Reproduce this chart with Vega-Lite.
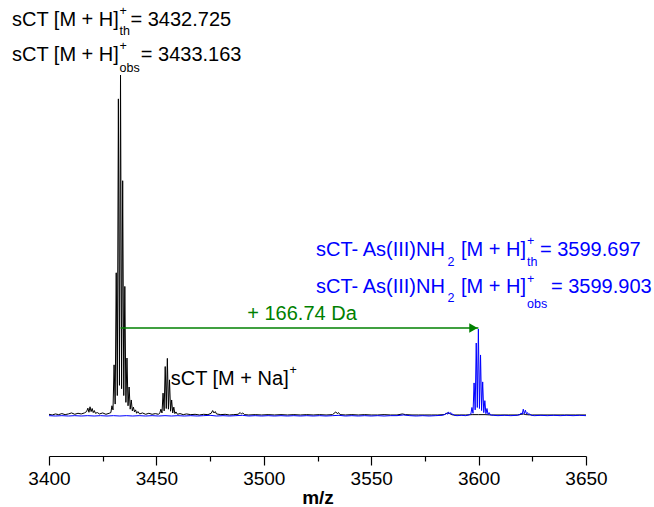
{
  "$schema": "https://vega.github.io/schema/vega-lite/v6.json",
  "autosize": "none",
  "width": 537,
  "height": 456,
  "padding": {"left": 49, "top": 0, "right": 68, "bottom": 51},
  "background": "#ffffff",
  "config": {"view": {"stroke": null}, "font": "Liberation Sans"},
  "datasets": {
    "black": [
      {"mz": 3400, "i": 0.5}, {"mz": 3401.5, "i": 0.3}, {"mz": 3403, "i": 0.6}, {"mz": 3404.5, "i": 0.4}, {"mz": 3406, "i": 0.7}, {"mz": 3407.5, "i": 0.4}, {"mz": 3409, "i": 0.6}, {"mz": 3410.5, "i": 0.9}, {"mz": 3412, "i": 0.5}, {"mz": 3413.5, "i": 0.8}, {"mz": 3415, "i": 0.6}, {"mz": 3416.5, "i": 0.9}, {"mz": 3417.5, "i": 1.3}, {"mz": 3418.1, "i": 2.3}, {"mz": 3418.6, "i": 1.1}, {"mz": 3419.1, "i": 2.7}, {"mz": 3419.6, "i": 1.3}, {"mz": 3420.1, "i": 2.2}, {"mz": 3420.6, "i": 1.0}, {"mz": 3421.1, "i": 1.6}, {"mz": 3421.6, "i": 0.8}, {"mz": 3422.5, "i": 1.0}, {"mz": 3423.5, "i": 0.6}, {"mz": 3425, "i": 0.9}, {"mz": 3426.5, "i": 0.5}, {"mz": 3428, "i": 0.8}, {"mz": 3428.8, "i": 1.0},
      {"mz": 3429.3, "i": 3.0}, {"mz": 3429.8, "i": 1.8}, {"mz": 3430.3, "i": 15}, {"mz": 3430.8, "i": 3.5}, {"mz": 3431.3, "i": 42}, {"mz": 3431.8, "i": 6}, {"mz": 3432.3, "i": 93}, {"mz": 3432.8, "i": 9}, {"mz": 3433.3, "i": 100}, {"mz": 3433.8, "i": 8}, {"mz": 3434.3, "i": 69}, {"mz": 3434.8, "i": 6}, {"mz": 3435.3, "i": 38}, {"mz": 3435.8, "i": 4}, {"mz": 3436.3, "i": 17}, {"mz": 3436.8, "i": 3}, {"mz": 3437.3, "i": 8.5}, {"mz": 3437.8, "i": 2}, {"mz": 3438.3, "i": 4.7}, {"mz": 3438.8, "i": 1.5}, {"mz": 3439.3, "i": 2.6}, {"mz": 3439.8, "i": 1.2}, {"mz": 3440.3, "i": 1.8}, {"mz": 3440.8, "i": 0.8}, {"mz": 3441.4, "i": 1.3}, {"mz": 3442.2, "i": 0.6}, {"mz": 3443.5, "i": 0.9}, {"mz": 3445, "i": 0.5}, {"mz": 3446.5, "i": 0.8}, {"mz": 3448, "i": 0.5}, {"mz": 3449.5, "i": 0.7}, {"mz": 3451, "i": 0.5}, {"mz": 3451.6, "i": 0.9},
      {"mz": 3452.1, "i": 2.0}, {"mz": 3452.6, "i": 0.9}, {"mz": 3453.1, "i": 6.7}, {"mz": 3453.6, "i": 1.5}, {"mz": 3454.1, "i": 14.5}, {"mz": 3454.6, "i": 2.2}, {"mz": 3455.1, "i": 16.9}, {"mz": 3455.6, "i": 2.0}, {"mz": 3456.1, "i": 10.6}, {"mz": 3456.6, "i": 1.4}, {"mz": 3457.1, "i": 4.7}, {"mz": 3457.6, "i": 0.9}, {"mz": 3458.1, "i": 2.6}, {"mz": 3458.6, "i": 0.7}, {"mz": 3459.1, "i": 1.2}, {"mz": 3459.8, "i": 0.5},
      {"mz": 3461, "i": 0.7}, {"mz": 3462.5, "i": 0.4}, {"mz": 3464, "i": 0.6}, {"mz": 3466, "i": 0.4}, {"mz": 3468, "i": 0.5}, {"mz": 3470, "i": 0.3}, {"mz": 3472, "i": 0.5}, {"mz": 3474, "i": 0.4}, {"mz": 3475.5, "i": 0.8}, {"mz": 3476.2, "i": 1.6}, {"mz": 3476.8, "i": 0.9}, {"mz": 3477.4, "i": 1.3}, {"mz": 3478, "i": 0.6}, {"mz": 3480, "i": 0.4}, {"mz": 3482, "i": 0.5}, {"mz": 3484, "i": 0.3}, {"mz": 3486, "i": 0.4}, {"mz": 3488, "i": 0.5}, {"mz": 3489, "i": 1.0}, {"mz": 3489.6, "i": 0.6}, {"mz": 3490.2, "i": 0.9}, {"mz": 3491, "i": 0.4}, {"mz": 3493, "i": 0.3}, {"mz": 3496, "i": 0.4}, {"mz": 3499, "i": 0.3}, {"mz": 3502, "i": 0.4}, {"mz": 3505, "i": 0.3}, {"mz": 3508, "i": 0.4}, {"mz": 3511, "i": 0.3}, {"mz": 3514, "i": 0.4}, {"mz": 3517, "i": 0.3}, {"mz": 3520, "i": 0.4}, {"mz": 3523, "i": 0.3}, {"mz": 3526, "i": 0.4}, {"mz": 3529, "i": 0.3}, {"mz": 3532, "i": 0.4}, {"mz": 3533.5, "i": 1.2}, {"mz": 3534.2, "i": 0.7}, {"mz": 3534.8, "i": 1.0}, {"mz": 3535.5, "i": 0.4}, {"mz": 3538, "i": 0.3}, {"mz": 3541, "i": 0.4}, {"mz": 3544, "i": 0.3}, {"mz": 3547, "i": 0.4}, {"mz": 3550, "i": 0.3}, {"mz": 3553, "i": 0.3}, {"mz": 3556, "i": 0.4}, {"mz": 3559, "i": 0.3}, {"mz": 3562, "i": 0.3}, {"mz": 3564.5, "i": 0.6}, {"mz": 3566, "i": 0.4}, {"mz": 3569, "i": 0.3}, {"mz": 3572, "i": 0.3}, {"mz": 3575, "i": 0.3}, {"mz": 3578, "i": 0.3}, {"mz": 3581, "i": 0.3}, {"mz": 3584, "i": 0.4}, {"mz": 3585.5, "i": 0.9}, {"mz": 3586.5, "i": 0.7}, {"mz": 3588, "i": 0.3}, {"mz": 3591, "i": 0.3}, {"mz": 3594, "i": 0.3}, {"mz": 3597, "i": 0.4}, {"mz": 3600, "i": 0.4}, {"mz": 3603, "i": 0.4}, {"mz": 3606, "i": 0.3}, {"mz": 3610, "i": 0.3}, {"mz": 3614, "i": 0.3}, {"mz": 3618, "i": 0.3}, {"mz": 3620.8, "i": 0.6}, {"mz": 3622, "i": 0.4}, {"mz": 3625, "i": 0.3}, {"mz": 3630, "i": 0.3}, {"mz": 3635, "i": 0.3}, {"mz": 3640, "i": 0.3}, {"mz": 3645, "i": 0.3}, {"mz": 3650, "i": 0.3}
    ],
    "blue": [
      {"mz": 3400, "i": 0.1}, {"mz": 3403, "i": 0.0}, {"mz": 3406, "i": 0.1}, {"mz": 3409, "i": 0.0}, {"mz": 3412, "i": 0.1}, {"mz": 3415, "i": 0.0}, {"mz": 3418, "i": 0.1}, {"mz": 3421, "i": 0.0}, {"mz": 3424, "i": 0.1}, {"mz": 3427, "i": 0.0}, {"mz": 3430, "i": 0.1}, {"mz": 3433, "i": 0.0}, {"mz": 3436, "i": 0.1}, {"mz": 3439, "i": 0.0}, {"mz": 3442, "i": 0.1}, {"mz": 3445, "i": 0.0}, {"mz": 3448, "i": 0.1}, {"mz": 3451, "i": 0.0}, {"mz": 3454, "i": 0.1}, {"mz": 3457, "i": 0.0}, {"mz": 3460, "i": 0.1}, {"mz": 3463, "i": 0.0}, {"mz": 3466, "i": 0.1}, {"mz": 3469, "i": 0.0}, {"mz": 3472, "i": 0.1}, {"mz": 3475, "i": 0.2}, {"mz": 3478, "i": 0.0}, {"mz": 3481, "i": 0.1}, {"mz": 3484, "i": 0.0}, {"mz": 3487, "i": 0.1}, {"mz": 3490, "i": 0.2}, {"mz": 3493, "i": 0.0}, {"mz": 3496, "i": 0.1}, {"mz": 3499, "i": 0.0}, {"mz": 3502, "i": 0.1}, {"mz": 3505, "i": 0.0}, {"mz": 3508, "i": 0.1}, {"mz": 3511, "i": 0.0}, {"mz": 3514, "i": 0.1}, {"mz": 3517, "i": 0.0}, {"mz": 3520, "i": 0.1}, {"mz": 3523, "i": 0.0}, {"mz": 3526, "i": 0.1}, {"mz": 3529, "i": 0.0}, {"mz": 3532, "i": 0.1}, {"mz": 3535, "i": 0.2}, {"mz": 3538, "i": 0.0}, {"mz": 3541, "i": 0.1}, {"mz": 3544, "i": 0.0}, {"mz": 3547, "i": 0.1}, {"mz": 3550, "i": 0.0}, {"mz": 3553, "i": 0.1}, {"mz": 3556, "i": 0.0}, {"mz": 3559, "i": 0.1}, {"mz": 3562, "i": 0.1}, {"mz": 3565, "i": 0.3}, {"mz": 3568, "i": 0.1}, {"mz": 3571, "i": 0.0}, {"mz": 3574, "i": 0.1}, {"mz": 3577, "i": 0.0}, {"mz": 3580, "i": 0.1},
      {"mz": 3583, "i": 0.2}, {"mz": 3584.5, "i": 0.5}, {"mz": 3585.0, "i": 0.9}, {"mz": 3585.5, "i": 0.5}, {"mz": 3586.0, "i": 1.2}, {"mz": 3586.5, "i": 0.6}, {"mz": 3587.0, "i": 1.0}, {"mz": 3587.5, "i": 0.4}, {"mz": 3588.0, "i": 0.6}, {"mz": 3588.6, "i": 0.2}, {"mz": 3590, "i": 0.1}, {"mz": 3592, "i": 0.2}, {"mz": 3594, "i": 0.1}, {"mz": 3595.5, "i": 0.3},
      {"mz": 3596.4, "i": 0.6}, {"mz": 3596.9, "i": 2.5}, {"mz": 3597.4, "i": 0.8}, {"mz": 3597.9, "i": 9.7}, {"mz": 3598.4, "i": 1.8}, {"mz": 3598.9, "i": 21.4}, {"mz": 3599.4, "i": 2.5}, {"mz": 3599.9, "i": 25.5}, {"mz": 3600.4, "i": 2.2}, {"mz": 3600.9, "i": 17.9}, {"mz": 3601.4, "i": 1.6}, {"mz": 3601.9, "i": 10}, {"mz": 3602.4, "i": 1.0}, {"mz": 3602.9, "i": 4.5}, {"mz": 3603.4, "i": 0.7}, {"mz": 3603.9, "i": 2.2}, {"mz": 3604.4, "i": 0.4}, {"mz": 3604.9, "i": 1.0}, {"mz": 3605.5, "i": 0.3},
      {"mz": 3607, "i": 0.2}, {"mz": 3609, "i": 0.1}, {"mz": 3612, "i": 0.2}, {"mz": 3615, "i": 0.1}, {"mz": 3618, "i": 0.2}, {"mz": 3619.3, "i": 0.4}, {"mz": 3619.8, "i": 0.9}, {"mz": 3620.3, "i": 0.5}, {"mz": 3620.8, "i": 2.0}, {"mz": 3621.3, "i": 0.7}, {"mz": 3621.8, "i": 1.7}, {"mz": 3622.3, "i": 0.6}, {"mz": 3622.8, "i": 1.0}, {"mz": 3623.3, "i": 0.4}, {"mz": 3623.8, "i": 0.6}, {"mz": 3624.5, "i": 0.2}, {"mz": 3626, "i": 0.1}, {"mz": 3629, "i": 0.2}, {"mz": 3632, "i": 0.1}, {"mz": 3635, "i": 0.2}, {"mz": 3638, "i": 0.1}, {"mz": 3641, "i": 0.2}, {"mz": 3644, "i": 0.1}, {"mz": 3647, "i": 0.2}, {"mz": 3650, "i": 0.1}
    ],
    "labels": [
      {"mz": 3382.77, "i": 116.13, "t": "sCT [M + H]", "part": "main", "g": "k"},
      {"mz": 3432.82, "i": 118.77, "t": "+", "part": "sup", "g": "k"},
      {"mz": 3432.82, "i": 112.91, "t": "th", "part": "sub", "g": "k"},
      {"mz": 3437.94, "i": 116.13, "t": "= 3432.725", "part": "main", "g": "k"},
      {"mz": 3382.77, "i": 105.87, "t": "sCT [M + H]", "part": "main", "g": "k"},
      {"mz": 3432.82, "i": 108.65, "t": "+", "part": "sup", "g": "k"},
      {"mz": 3432.82, "i": 102.06, "t": "obs", "part": "sub", "g": "k"},
      {"mz": 3442.74, "i": 105.87, "t": "= 3433.163", "part": "main", "g": "k"},
      {"mz": 3456.66, "i": 10.85, "t": "sCT [M + Na]", "part": "main", "g": "k"},
      {"mz": 3511.96, "i": 13.49, "t": "+", "part": "sup", "g": "k"},
      {"mz": 3524.30, "i": 48.68, "t": "sCT- As(III)NH", "part": "main", "g": "b"},
      {"mz": 3585.52, "i": 45.16, "t": "2", "part": "sub", "g": "b"},
      {"mz": 3591.81, "i": 48.68, "t": "[M + H]", "part": "main", "g": "b"},
      {"mz": 3622.53, "i": 51.32, "t": "+", "part": "sup", "g": "b"},
      {"mz": 3622.53, "i": 45.16, "t": "th", "part": "sub", "g": "b"},
      {"mz": 3628.58, "i": 48.68, "t": "= 3599.697", "part": "main", "g": "b"},
      {"mz": 3524.30, "i": 37.83, "t": "sCT- As(III)NH", "part": "main", "g": "b"},
      {"mz": 3585.52, "i": 34.6, "t": "2", "part": "sub", "g": "b"},
      {"mz": 3591.81, "i": 37.83, "t": "[M + H]", "part": "main", "g": "b"},
      {"mz": 3622.53, "i": 40.18, "t": "+", "part": "sup", "g": "b"},
      {"mz": 3622.53, "i": 32.85, "t": "obs", "part": "sub", "g": "b"},
      {"mz": 3633.71, "i": 37.83, "t": "= 3599.903", "part": "main", "g": "b"}
    ],
    "shift": [
      {"mz": 3433.3, "mz2": 3599.9, "i": 25.81, "t": "+ 166.74 Da", "mzt": 3517.78, "it": 29.91}
    ]
  },
  "layer": [
    {
      "data": {"name": "black"},
      "mark": {"type": "line", "color": "#000000", "strokeWidth": 1, "interpolate": "linear"},
      "encoding": {
        "x": {
          "field": "mz", "type": "quantitative",
          "scale": {"domain": [3400, 3650], "nice": false, "zero": false},
          "axis": {
            "title": "m/z",
            "values": [3400, 3425, 3450, 3475, 3500, 3525, 3550, 3575, 3600, 3625, 3650],
            "format": "d",
            "labelExpr": "datum.value % 50 === 0 ? datum.label : ''",
            "tickSize": {"condition": {"test": "datum.value % 50 === 0", "value": 9}, "value": 5},
            "grid": false,
            "domainColor": "#000000", "domainWidth": 1.2,
            "tickColor": "#000000", "tickWidth": 1.2,
            "labelFont": "Liberation Sans", "labelFontSize": 19, "labelColor": "#000000",
            "labelPadding": 4, "labelFlush": false, "labelOverlap": false,
            "titleFont": "Liberation Sans", "titleFontSize": 19, "titleFontWeight": "bold", "titleColor": "#000000",
            "titlePadding": 0
          }
        },
        "y": {
          "field": "i", "type": "quantitative",
          "scale": {"domain": [-11.73, 122], "nice": false, "zero": false},
          "axis": null
        }
      }
    },
    {
      "data": {"name": "blue"},
      "mark": {"type": "line", "color": "#0000ff", "strokeWidth": 1},
      "encoding": {
        "x": {"field": "mz", "type": "quantitative"},
        "y": {"field": "i", "type": "quantitative"}
      }
    },
    {
      "data": {"name": "shift"},
      "mark": {"type": "rule", "color": "#008000", "strokeWidth": 1.5},
      "encoding": {
        "x": {"field": "mz", "type": "quantitative"},
        "x2": {"field": "mz2"},
        "y": {"field": "i", "type": "quantitative"}
      }
    },
    {
      "data": {"name": "shift"},
      "mark": {"type": "point", "shape": "triangle-right", "filled": true, "color": "#008000", "opacity": 1, "size": 90, "xOffset": -5},
      "encoding": {
        "x": {"field": "mz2", "type": "quantitative"},
        "y": {"field": "i", "type": "quantitative"}
      }
    },
    {
      "data": {"name": "shift"},
      "mark": {"type": "text", "color": "#008000", "font": "Liberation Sans", "fontSize": 20, "align": "center", "baseline": "middle"},
      "encoding": {
        "x": {"field": "mzt", "type": "quantitative"},
        "y": {"field": "it", "type": "quantitative"},
        "text": {"field": "t"}
      }
    },
    {
      "data": {"name": "labels"},
      "transform": [{"filter": "datum.part === 'main'"}],
      "mark": {"type": "text", "font": "Liberation Sans", "fontSize": 20, "align": "left", "baseline": "middle"},
      "encoding": {
        "x": {"field": "mz", "type": "quantitative"},
        "y": {"field": "i", "type": "quantitative"},
        "text": {"field": "t"},
        "color": {"field": "g", "type": "nominal", "scale": {"domain": ["k", "b"], "range": ["#000000", "#0000ff"]}, "legend": null}
      }
    },
    {
      "data": {"name": "labels"},
      "transform": [{"filter": "datum.part !== 'main'"}],
      "mark": {"type": "text", "font": "Liberation Sans", "fontSize": 12.5, "align": "left", "baseline": "middle"},
      "encoding": {
        "x": {"field": "mz", "type": "quantitative"},
        "y": {"field": "i", "type": "quantitative"},
        "text": {"field": "t"},
        "color": {"field": "g", "type": "nominal", "legend": null}
      }
    }
  ]
}
